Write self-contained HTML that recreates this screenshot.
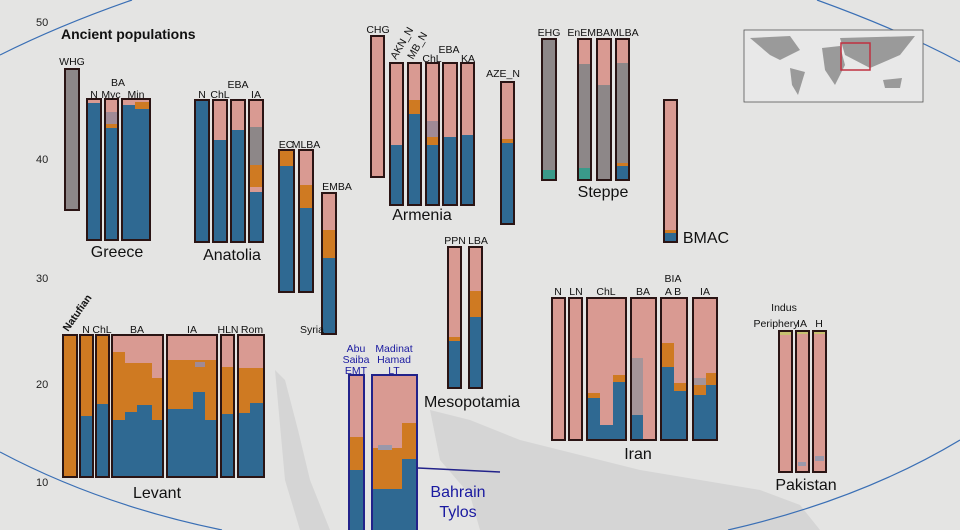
<!DOCTYPE html>
<html><head><meta charset="utf-8"><style>
html,body{margin:0;padding:0;background:#e4e4e4;}
svg{display:block;font-family:"Liberation Sans",Arial,sans-serif;}
</style></head><body>
<svg width="960" height="530" viewBox="0 0 960 530" xmlns="http://www.w3.org/2000/svg">
<rect width="960" height="530" fill="#e4e4e3"/>
<!-- map hints -->
<g fill="#c4c4c4" opacity="0.45">
<path d="M430 410 L470 420 L520 440 L560 450 L600 460 L640 470 L700 480 L760 490 L800 505 L820 530 L480 530 L470 495 L440 460 Z"/>
<path d="M275 370 L285 380 L298 430 L310 480 L330 530 L300 530 L285 480 Z"/>
</g>
<!-- ellipse lines -->
<g fill="none" stroke="#3a6fb5" stroke-width="1.2">
<path d="M0 55 Q60 25 132 0"/>
<path d="M817 0 Q900 30 960 62"/>
<path d="M0 452 Q100 505 222 530"/>
<path d="M728 530 Q860 500 960 440"/>
</g>
<g font-size="11" fill="#222"><text x="36" y="26">50</text><text x="36" y="163">40</text><text x="36" y="282">30</text><text x="36" y="388">20</text><text x="36" y="486">10</text></g>
<text x="61" y="39" font-size="14" font-weight="bold" fill="#111">Ancient populations</text>
<!-- inset map -->
<rect x="744" y="30" width="179" height="72" fill="#e8e8e8" stroke="#555" stroke-width="0.8"/>
<g fill="#9a9a9a"><path d="M750 38 L790 36 L800 50 L780 60 L770 55 Z"/><path d="M790 68 L805 72 L798 95 L792 85 Z"/><path d="M822 48 L840 46 L845 65 L835 85 L825 70 Z"/><path d="M840 38 L915 36 L900 55 L870 68 L845 55 Z"/><path d="M883 80 L902 78 L900 88 L885 88 Z"/></g>
<rect x="841" y="43" width="29" height="27" fill="none" stroke="#c03040" stroke-width="1.5"/>

<g stroke="#2a1414" stroke-width="2">
<rect x="65" y="69" width="14" height="141" fill="#8d8788"/>
<rect x="87" y="99" width="14" height="141" fill="#2f6992"/>
<rect x="105" y="99" width="13" height="141" fill="#2f6992"/>
<rect x="122" y="99" width="28" height="141" fill="#2f6992"/>
<rect x="195" y="100" width="14" height="142" fill="#2f6992"/>
<rect x="213" y="100" width="14" height="142" fill="#2f6992"/>
<rect x="231" y="100" width="14" height="142" fill="#2f6992"/>
<rect x="249" y="100" width="14" height="142" fill="#2f6992"/>
<rect x="279" y="150" width="15" height="142" fill="#2f6992"/>
<rect x="299" y="150" width="14" height="142" fill="#2f6992"/>
<rect x="322" y="193" width="14" height="141" fill="#2f6992"/>
<rect x="371" y="36" width="13" height="141" fill="#d99a92"/>
<rect x="390" y="63" width="13" height="142" fill="#2f6992"/>
<rect x="408" y="63" width="13" height="142" fill="#2f6992"/>
<rect x="426" y="63" width="13" height="142" fill="#2f6992"/>
<rect x="443" y="63" width="14" height="142" fill="#2f6992"/>
<rect x="461" y="63" width="13" height="142" fill="#2f6992"/>
<rect x="501" y="82" width="13" height="142" fill="#2f6992"/>
<rect x="542" y="39" width="14" height="141" fill="#8d8788"/>
<rect x="578" y="39" width="13" height="141" fill="#8d8788"/>
<rect x="597" y="39" width="14" height="141" fill="#8d8788"/>
<rect x="616" y="39" width="13" height="141" fill="#8d8788"/>
<rect x="664" y="100" width="13" height="142" fill="#d99a92"/>
<rect x="448" y="247" width="13" height="141" fill="#2f6992"/>
<rect x="469" y="247" width="13" height="141" fill="#2f6992"/>
<rect x="63" y="335" width="14" height="142" fill="#cf7a22"/>
<rect x="80" y="335" width="13" height="142" fill="#2f6992"/>
<rect x="96" y="335" width="13" height="142" fill="#2f6992"/>
<rect x="112" y="335" width="51" height="142" fill="#2f6992"/>
<rect x="167" y="335" width="50" height="142" fill="#2f6992"/>
<rect x="221" y="335" width="13" height="142" fill="#2f6992"/>
<rect x="238" y="335" width="26" height="142" fill="#2f6992"/>
<rect x="552" y="298" width="13" height="142" fill="#d99a92"/>
<rect x="569" y="298" width="13" height="142" fill="#d99a92"/>
<rect x="587" y="298" width="39" height="142" fill="#d99a92"/>
<rect x="631" y="298" width="25" height="142" fill="#d99a92"/>
<rect x="661" y="298" width="26" height="142" fill="#d99a92"/>
<rect x="693" y="298" width="24" height="142" fill="#d99a92"/>
<rect x="779" y="331" width="13" height="141" fill="#d99a92"/>
<rect x="796" y="331" width="13" height="141" fill="#d99a92"/>
<rect x="813" y="331" width="13" height="141" fill="#d99a92"/>
</g>
<g stroke="#22228a" stroke-width="2">
<rect x="349" y="375" width="15" height="160" fill="#2f6992"/>
<rect x="372" y="375" width="45" height="160" fill="#2f6992"/>
</g>
<line x1="418" y1="468" x2="500" y2="472" stroke="#22228a" stroke-width="1.5"/>

<g stroke="none">
<rect x="88" y="100" width="12" height="3" fill="#d99a92"/>
<rect x="106" y="100" width="11" height="25" fill="#d99a92"/>
<rect x="106" y="112" width="11" height="12" fill="#a08a96"/>
<rect x="106" y="124" width="11" height="4" fill="#cf7a22"/>
<rect x="123" y="100" width="26" height="5" fill="#d99a92"/>
<rect x="135" y="102" width="14" height="7" fill="#cf7a22"/>
<rect x="214" y="101" width="12" height="39" fill="#d99a92"/>
<rect x="232" y="101" width="12" height="29" fill="#d99a92"/>
<rect x="250" y="101" width="12" height="26" fill="#d99a92"/>
<rect x="250" y="127" width="12" height="38" fill="#8d8788"/>
<rect x="250" y="165" width="12" height="22" fill="#cf7a22"/>
<rect x="250" y="187" width="12" height="5" fill="#d99a92"/>
<rect x="280" y="151" width="13" height="15" fill="#cf7a22"/>
<rect x="300" y="151" width="12" height="34" fill="#d99a92"/>
<rect x="300" y="185" width="12" height="23" fill="#cf7a22"/>
<rect x="323" y="194" width="12" height="36" fill="#d99a92"/>
<rect x="323" y="230" width="12" height="28" fill="#cf7a22"/>
<rect x="391" y="64" width="11" height="81" fill="#d99a92"/>
<rect x="409" y="64" width="11" height="36" fill="#d99a92"/>
<rect x="409" y="100" width="11" height="14" fill="#cf7a22"/>
<rect x="427" y="64" width="11" height="57" fill="#d99a92"/>
<rect x="427" y="121" width="11" height="16" fill="#a08a96"/>
<rect x="427" y="137" width="11" height="8" fill="#cf7a22"/>
<rect x="444" y="64" width="12" height="73" fill="#d99a92"/>
<rect x="462" y="64" width="11" height="71" fill="#d99a92"/>
<rect x="502" y="83" width="11" height="56" fill="#d99a92"/>
<rect x="502" y="139" width="11" height="4" fill="#cf7a22"/>
<rect x="543" y="170" width="12" height="9" fill="#3a9a8a"/>
<rect x="579" y="40" width="11" height="24" fill="#d99a92"/>
<rect x="579" y="168" width="11" height="11" fill="#3a9a8a"/>
<rect x="598" y="40" width="12" height="45" fill="#d99a92"/>
<rect x="617" y="40" width="11" height="23" fill="#d99a92"/>
<rect x="617" y="163" width="11" height="3" fill="#cf7a22"/>
<rect x="617" y="166" width="11" height="13" fill="#2f6992"/>
<rect x="665" y="230" width="11" height="3" fill="#cf7a22"/>
<rect x="665" y="233" width="11" height="8" fill="#2f6992"/>
<rect x="449" y="248" width="11" height="89" fill="#d99a92"/>
<rect x="449" y="337" width="11" height="4" fill="#cf7a22"/>
<rect x="470" y="248" width="11" height="43" fill="#d99a92"/>
<rect x="470" y="291" width="11" height="26" fill="#cf7a22"/>
<rect x="81" y="336" width="11" height="80" fill="#cf7a22"/>
<rect x="97" y="336" width="11" height="68" fill="#cf7a22"/>
<path d="M113 336 H162 V420 H152 V405 H150 V405 H137 V412 H125 V420 H113 Z" fill="#cf7a22"/>
<path d="M113 336 H162 V378 H152 V363 H125 V352 H113 Z" fill="#d99a92"/>
<path d="M168 336 H216 V420 H205 V392 H193 V409 H168 Z" fill="#cf7a22"/>
<path d="M168 336 H216 V360 H168 Z" fill="#d99a92"/>
<rect x="195" y="362" width="10" height="5" fill="#a08a96"/>
<rect x="222" y="336" width="11" height="78" fill="#cf7a22"/>
<rect x="222" y="336" width="11" height="31" fill="#d99a92"/>
<path d="M239 336 H263 V403 H250 V413 H239 Z" fill="#cf7a22"/>
<rect x="239" y="336" width="24" height="32" fill="#d99a92"/>
<rect x="350" y="376" width="13" height="61" fill="#d99a92"/>
<rect x="350" y="437" width="13" height="33" fill="#cf7a22"/>
<path d="M373 376 H416 V459 H402 V489 H373 Z" fill="#cf7a22"/>
<path d="M373 376 H416 V423 H402 V448 H373 Z" fill="#d99a92"/>
<rect x="378" y="445" width="14" height="5" fill="#9a98aa"/>
<rect x="588" y="393" width="12" height="5" fill="#cf7a22"/>
<rect x="588" y="398" width="12" height="41" fill="#2f6992"/>
<rect x="600" y="425" width="13" height="14" fill="#2f6992"/>
<rect x="613" y="375" width="12" height="7" fill="#cf7a22"/>
<rect x="613" y="382" width="12" height="57" fill="#2f6992"/>
<rect x="632" y="358" width="11" height="57" fill="#a59499"/>
<rect x="632" y="415" width="11" height="24" fill="#2f6992"/>
<rect x="662" y="343" width="12" height="24" fill="#cf7a22"/>
<rect x="662" y="367" width="12" height="72" fill="#2f6992"/>
<rect x="674" y="383" width="12" height="8" fill="#cf7a22"/>
<rect x="674" y="391" width="12" height="48" fill="#2f6992"/>
<rect x="694" y="378" width="12" height="7" fill="#a59499"/>
<rect x="694" y="385" width="12" height="10" fill="#cf7a22"/>
<rect x="694" y="395" width="12" height="44" fill="#2f6992"/>
<rect x="706" y="373" width="10" height="12" fill="#cf7a22"/>
<rect x="706" y="385" width="10" height="54" fill="#2f6992"/>
<rect x="780" y="332" width="11" height="3" fill="#c8c070"/>
<rect x="797" y="332" width="11" height="2" fill="#c8c070"/>
<rect x="814" y="332" width="11" height="2" fill="#c8c070"/>
<rect x="798" y="462" width="8" height="4" fill="#9a98aa"/>
<rect x="815" y="456" width="9" height="5" fill="#9a98aa"/>
</g>

<g font-size="10.5" fill="#111" text-anchor="middle">
<text x="72" y="65">WHG</text>
<text x="118" y="86">BA</text>
<text x="94" y="98">N</text><text x="111" y="98">Myc</text><text x="136" y="98">Min</text>
<text x="238" y="88">EBA</text>
<text x="202" y="98">N</text><text x="220" y="98">ChL</text><text x="256" y="98">IA</text>
<text x="286" y="148">EC</text><text x="306" y="148">MLBA</text>
<text x="337" y="190">EMBA</text>
<text x="378" y="33">CHG</text>
<text x="449" y="53">EBA</text><text x="432" y="62">ChL</text><text x="468" y="62">KA</text>
<text x="503" y="77">AZE_N</text>
<text x="549" y="36">EHG</text>
<text x="603" y="36">EnEMBAMLBA</text>
<text x="455" y="244">PPN</text><text x="478" y="244">LBA</text>
<text x="86" y="333">N</text><text x="102" y="333">ChL</text><text x="137" y="333">BA</text><text x="192" y="333">IA</text><text x="228" y="333">HLN</text><text x="252" y="333">Rom</text>
<text x="558" y="295">N</text><text x="576" y="295">LN</text><text x="606" y="295">ChL</text><text x="643" y="295">BA</text><text x="673" y="282">BIA</text><text x="673" y="295">A B</text><text x="705" y="295">IA</text>
<text x="784" y="311">Indus</text><text x="776" y="327">Periphery</text><text x="802" y="327">IA</text><text x="819" y="327">H</text>
<text x="312" y="333">Syria</text>
</g>
<text x="68" y="332" font-size="10.5" font-weight="bold" fill="#111" transform="rotate(-55 68 332)" dx="0">Natufian</text>
<text x="396" y="60" font-size="10.5" fill="#111" transform="rotate(-60 396 60)">AKN_N</text>
<text x="413" y="60" font-size="10.5" fill="#111" transform="rotate(-60 413 60)">MB_N</text>
<g font-size="16" fill="#111" text-anchor="middle">
<text x="117" y="257">Greece</text>
<text x="232" y="260">Anatolia</text>
<text x="422" y="220">Armenia</text>
<text x="603" y="197">Steppe</text>
<text x="706" y="243">BMAC</text>
<text x="472" y="407">Mesopotamia</text>
<text x="157" y="498">Levant</text>
<text x="638" y="459">Iran</text>
<text x="806" y="490">Pakistan</text>
</g>
<g font-size="10.5" fill="#1a1aa0" text-anchor="middle">
<text x="356" y="352">Abu</text><text x="356" y="363">Saiba</text><text x="356" y="374">EMT</text>
<text x="394" y="352">Madinat</text><text x="394" y="363">Hamad</text><text x="394" y="374">LT</text>
</g>
<g font-size="16" fill="#1a1aa0" text-anchor="middle"><text x="458" y="497">Bahrain</text><text x="458" y="517">Tylos</text></g>
</svg>
</body></html>
